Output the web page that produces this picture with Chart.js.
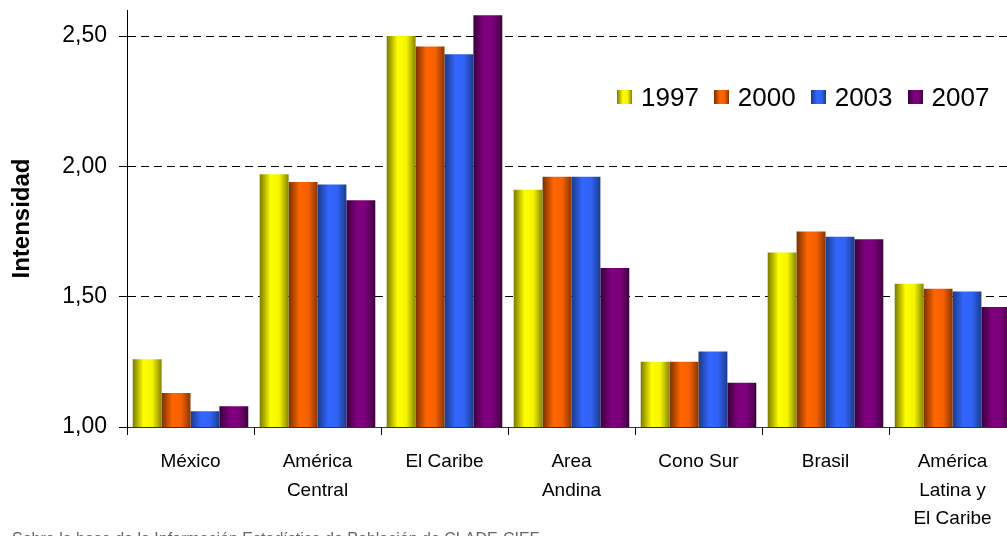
<!DOCTYPE html>
<html>
<head>
<meta charset="utf-8">
<script src="https://cdn.jsdelivr.net/npm/chart.js@4.4.1/dist/chart.umd.min.js"></script>
<style>
  body { margin: 0; background: #fff; overflow: hidden; width: 1007px; height: 536px; position: relative; }
  #wrap { position: absolute; left: 0; top: 0; width: 1016px; height: 536px; }
  #legend { position: absolute; left: 617px; top: 82px; font: 26px "Liberation Sans", Arial, sans-serif; color: #000; white-space: nowrap; }
  #legend span.item { display: inline-block; margin-right: 15px; }
  #legend i { display: inline-block; width: 15px; height: 14px; margin-right: 9px; vertical-align: 2px; }
  #note { position: absolute; left: 12px; top: 530px; font: 16px "Liberation Sans", Arial, sans-serif; color: #666; white-space: nowrap; }
</style>
</head>
<body>
<div id="wrap"><canvas id="chart"></canvas></div>
<div id="legend"></div>
<div id="note">Sobre la base de la Información Estadística de Población de CLADE-CIEF</div>
<script>
const categories = ["México", ["América", "Central"], "El Caribe", ["Area", "Andina"], "Cono Sur", "Brasil", ["América", "Latina y", "El Caribe"]];
const years = ["1997", "2000", "2003", "2007"];
const v1997 = [1.26, 1.97, 2.50, 1.91, 1.25, 1.67, 1.55];
const v2000 = [1.13, 1.94, 2.46, 1.96, 1.25, 1.75, 1.53];
const v2003 = [1.06, 1.93, 2.43, 1.96, 1.29, 1.73, 1.52];
const v2007 = [1.08, 1.87, 2.58, 1.61, 1.17, 1.72, 1.46];
const yTicks = [1.0, 1.5, 2.0, 2.5];

// left dark, bright, bright, right dark
const shades = [
  ["#7a7a00", "#ffff00", "#f4f400", "#858500"],
  ["#7a3000", "#ff6600", "#f66000", "#8a3600"],
  ["#1a3a88", "#3366ff", "#3062f4", "#1c3c8c"],
  ["#3a003a", "#800080", "#7a007a", "#3c003c"],
];

const legend = document.getElementById("legend");
years.forEach((y, i) => {
  const s = shades[i];
  legend.innerHTML += '<span class="item"><i style="background:linear-gradient(to right,' +
    s[0] + ',' + s[1] + ' 40%,' + s[2] + ' 70%,' + s[3] + ')"></i>' + y + '</span>';
});

const gradientBars = {
  id: "gradientBars",
  beforeDatasetsDraw(chart) {
    const ctx = chart.ctx;
    chart.data.datasets.forEach((ds, i) => {
      const s = shades[i];
      chart.getDatasetMeta(i).data.forEach(bar => {
        const g = ctx.createLinearGradient(bar.x - bar.width / 2, 0, bar.x + bar.width / 2, 0);
        g.addColorStop(0, s[0]);
        g.addColorStop(0.38, s[1]);
        g.addColorStop(0.68, s[2]);
        g.addColorStop(1, s[3]);
        bar.options.backgroundColor = g;
      });
    });
  }
};

const series = [v1997, v2000, v2003, v2007];

new Chart(document.getElementById("chart"), {
  type: "bar",
  data: {
    labels: categories,
    datasets: series.map((d, i) => ({
      label: years[i],
      data: d,
      backgroundColor: () => shades[i][1],
      borderWidth: 0,
      categoryPercentage: 0.91,
      barPercentage: 1.0,
    })),
  },
  options: {
    responsive: true,
    maintainAspectRatio: false,
    animation: false,
    layout: { padding: { top: 10, right: 0, bottom: 0, left: 0 } },
    plugins: {
      legend: { display: false },
      tooltip: { enabled: false },
    },
    scales: {
      x: {
        grid: { drawOnChartArea: false, drawTicks: true, tickLength: 8, tickColor: "#000", offset: true },
        border: { display: true, color: "#333", width: 1 },
        ticks: {
          color: "#000",
          padding: 12,
          maxRotation: 0,
          autoSkip: false,
          font: { family: '"Liberation Sans", Arial, sans-serif', size: 19, lineHeight: 1.52 },
        },
        afterFit: s => { s.height = 109; s.paddingLeft = 0; s.paddingRight = 0; },
      },
      y: {
        min: 1,
        max: 2.6,
        afterBuildTicks: s => { s.ticks = yTicks.map(v => ({ value: v })); },
        grid: {
          color: c => (c.tick && c.tick.value === 1 ? "rgba(0,0,0,0)" : "#000"),
          lineWidth: 1,
          tickLength: 8,
          tickColor: "#000",
          tickBorderDash: [],
        },
        border: { display: true, color: "#000", width: 1, dash: [8, 5] },
        ticks: {
          color: "#000",
          padding: 12,
          font: { family: '"Liberation Sans", Arial, sans-serif', size: 23 },
          callback: v => v.toFixed(2).replace(".", ","),
        },
        title: {
          display: true,
          text: "Intensidad",
          color: "#000",
          padding: { top: 8, bottom: 0 },
          font: { family: '"Liberation Sans", Arial, sans-serif', size: 24, weight: "bold" },
        },
        afterFit: s => { s.width = 127; s.paddingTop = 0; s.paddingBottom = 0; },
      },
    },
  },
  plugins: [gradientBars],
});
</script>
</body>
</html>
